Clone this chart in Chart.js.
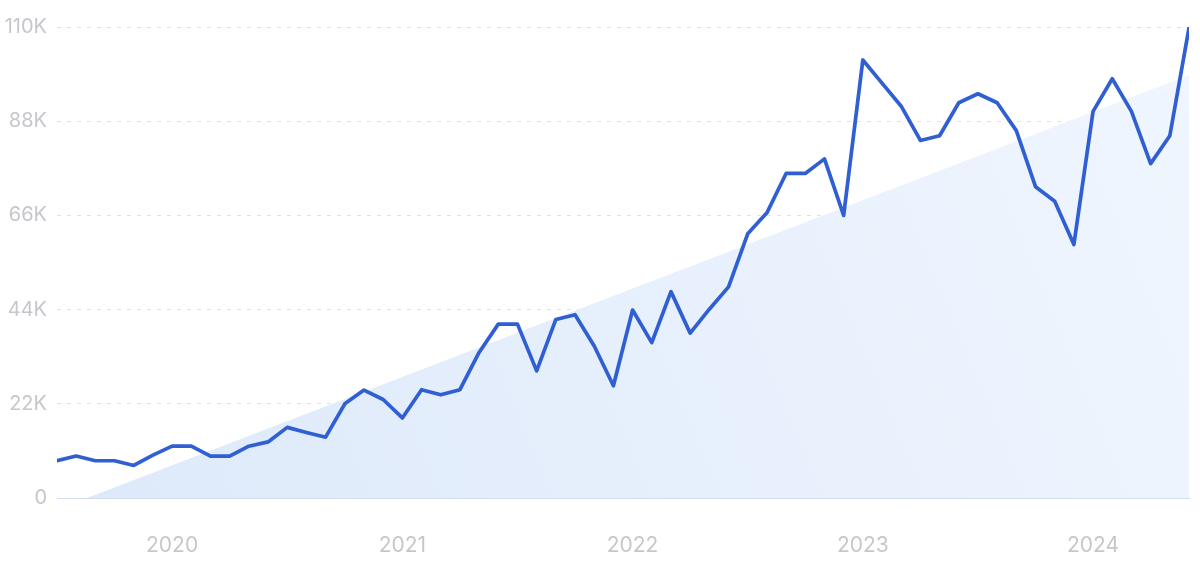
<!DOCTYPE html>
<html>
<head>
<meta charset="utf-8">
<script src="https://cdn.jsdelivr.net/npm/chart.js@4"></script>
<style>
    html, body { margin: 0; padding: 0; background: #ffffff; }
    #wrap { width: 1200px; height: 561px; }
</style>
</head>
<body>
<div id="wrap"><canvas id="trendChart"></canvas></div>
<script>
// monthly values, Jul 2019 .. Jun 2024
const monthlyValues = [
    8700, 9800, 8700, 8700, 7600, 10000,
    12100, 12100, 9800, 9800, 12100, 13100, 16500, 15300, 14200, 22000, 25200, 23000,
    18700, 25300, 24100, 25300, 34000, 40600, 40600, 29700, 41700, 42800, 35500, 26200,
    43900, 36300, 48200, 38500, 44100, 49300, 61700, 66600, 75800, 75800, 79200, 66000,
    102300, 96900, 91500, 83500, 84600, 92300, 94400, 92300, 85800, 72700, 69300, 59200,
    90300, 97900, 90300, 78100, 84600, 109800
];

// year labels sit on the January of each year
const yearLabels = ["2020", "2021", "2022", "2023", "2024"];
const yearPositions = [6, 18, 30, 42, 54];

// y axis ticks
const yTicks = [0, 22000, 44000, 66000, 88000, 110000];

// trend wedge end points (month index, value)
const trendX = [1.56, 59];
const trendY = [0, 98800];

document.addEventListener("DOMContentLoaded", function () {
    let ctx = document.getElementById("trendChart").getContext("2d");

    let lineData = monthlyValues.map((v, i) => ({ x: i, y: v }));
    let trendData = trendX.map((x, i) => ({ x: x, y: trendY[i] }));

    new Chart(ctx, {
        type: "line",
        data: {
            datasets: [{
                label: "Searches",
                data: lineData,
                borderColor: "#2f5fd3",
                borderWidth: 3.7,
                borderJoinStyle: "round",
                borderCapStyle: "round",
                pointRadius: 0,
                tension: 0,
                fill: false,
                order: 1
            }, {
                label: "Trend",
                data: trendData,
                borderWidth: 0,
                pointRadius: 0,
                fill: "origin",
                backgroundColor: function (c) {
                    let area = c.chart.chartArea;
                    if (!area) return "#e6effc";
                    let g = c.chart.ctx.createLinearGradient(area.left, area.bottom, area.right, area.top);
                    g.addColorStop(0, "#dde9fa");
                    g.addColorStop(1, "#f0f6fe");
                    return g;
                },
                order: 2
            }]
        },
        options: {
            responsive: true,
            maintainAspectRatio: false,
            animation: false,
            layout: {
                padding: { top: 27, right: 11, bottom: 0, left: 0 }
            },
            plugins: {
                legend: { display: false },
                tooltip: { enabled: false }
            },
            scales: {
                x: {
                    type: "linear",
                    min: 0,
                    max: monthlyValues.length - 1,
                    afterBuildTicks: function (scale) {
                        scale.ticks = yearPositions.map(p => ({ value: p }));
                    },
                    afterFit: function (scale) {
                        scale.height = 63;
                    },
                    ticks: {
                        autoSkip: false,
                        maxRotation: 0,
                        padding: 35,
                        color: "#c6c7cc",
                        font: { family: "Inter", size: 21 },
                        callback: function (value) {
                            let k = yearPositions.indexOf(value);
                            return k >= 0 ? yearLabels[k] : "";
                        }
                    },
                    grid: { display: false, drawTicks: false },
                    border: { display: true, color: "#d3dff0", width: 1 }
                },
                y: {
                    min: 0,
                    max: 110000,
                    afterBuildTicks: function (scale) {
                        scale.ticks = yTicks.map(v => ({ value: v }));
                    },
                    afterFit: function (scale) {
                        scale.width = 57;
                    },
                    ticks: {
                        padding: 10,
                        color: "#c6c7cc",
                        font: { family: "Inter", size: 20 },
                        callback: function (value) {
                            return value === 0 ? "0" : (value / 1000) + "K";
                        }
                    },
                    grid: {
                        drawTicks: false,
                        color: function (c) {
                            return c.tick && c.tick.value === 0 ? "rgba(0,0,0,0)" : "#dce3ee";
                        },
                        lineWidth: 1
                    },
                    border: { display: false, dash: [4, 6] }
                }
            }
        }
    });
});
</script>
</body>
</html>
